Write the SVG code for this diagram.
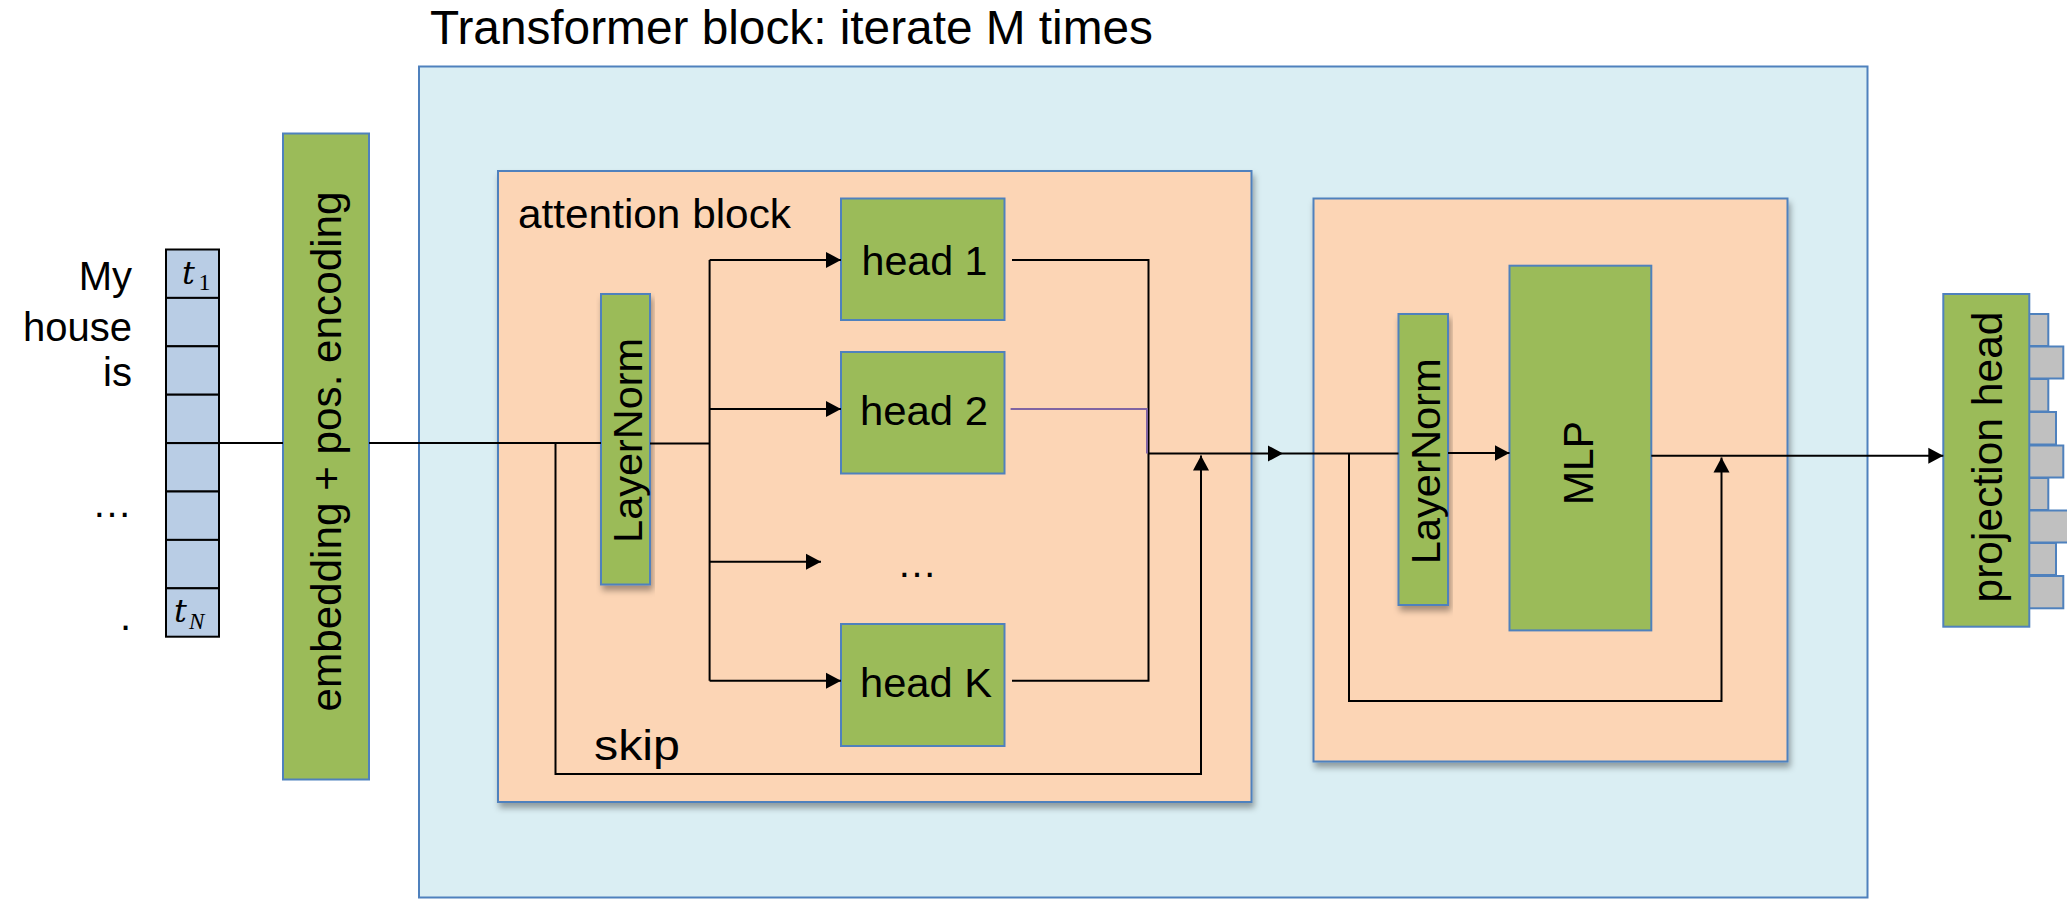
<svg xmlns="http://www.w3.org/2000/svg" width="2067" height="899" viewBox="0 0 2067 899">
  <defs>
    <style>
      .txt { font-family: "Liberation Sans", Arial, sans-serif; fill: #000; }
      .math { font-family: "Liberation Serif", "Times New Roman", serif; fill: #000; }
      .mathvar { font-family: "DejaVu Serif", "Liberation Serif", serif; font-style: italic; fill: #000; }
      .outer { fill: #DAEEF3; stroke: #4F81BD; stroke-width: 2; }
      .block { fill: #FCD5B5; stroke: #4F81BD; stroke-width: 2; }
      .green { fill: #9BBB59; stroke: #4F81BD; stroke-width: 2; }
      .cell { fill: #B9CDE5; stroke: #000; stroke-width: 2; }
      .bar { fill: #C0C0C0; stroke: #4F81BD; stroke-width: 2; }
      .wire { fill: none; stroke: #000; stroke-width: 2; }
      .wire-alt { fill: none; stroke: #8064A2; stroke-width: 2; }
    </style>
    <marker id="arrow" markerWidth="16" markerHeight="18" refX="15" refY="9" orient="auto" markerUnits="userSpaceOnUse">
      <path d="M0,1 L15,9 L0,17 Z" fill="#000"/>
    </marker>
    <filter id="shadow" x="-10%" y="-10%" width="120%" height="130%">
      <feDropShadow dx="2" dy="5" stdDeviation="3" flood-color="#000" flood-opacity="0.35"/>
    </filter>
  </defs>

  <!-- title -->
  <text class="txt" x="430" y="44" font-size="48" textLength="723" lengthAdjust="spacingAndGlyphs">Transformer block: iterate M times</text>

  <!-- input words -->
  <g id="words" class="txt" font-size="40" text-anchor="end">
    <text x="132" y="290">My</text>
    <text x="132" y="341">house</text>
    <text x="132" y="386">is</text>
    <text x="132" y="517">…</text>
    <text x="131" y="630">.</text>
  </g>

  <!-- token column -->
  <g id="tokens">
    <rect class="cell" x="166" y="249.5" width="53" height="48.4"/>
    <rect class="cell" x="166" y="297.9" width="53" height="48.4"/>
    <rect class="cell" x="166" y="346.3" width="53" height="48.4"/>
    <rect class="cell" x="166" y="394.7" width="53" height="48.4"/>
    <rect class="cell" x="166" y="443.1" width="53" height="48.4"/>
    <rect class="cell" x="166" y="491.5" width="53" height="48.4"/>
    <rect class="cell" x="166" y="539.9" width="53" height="48.4"/>
    <rect class="cell" x="166" y="588.3" width="53" height="48.4"/>
    <text class="mathvar" x="182" y="284" font-size="32">t</text>
    <text class="math" x="198.5" y="290" font-size="24">1</text>
    <text class="mathvar" x="174" y="622" font-size="32">t</text>
    <text class="math" x="189" y="629" font-size="23" font-style="italic">N</text>
  </g>

  <!-- embedding -->
  <g id="embedding">
    <rect class="green" x="283" y="133.5" width="86" height="646"/>
    <text class="txt" font-size="42" text-anchor="middle" textLength="520" lengthAdjust="spacingAndGlyphs" transform="translate(341,451.5) rotate(-90)">embedding + pos. encoding</text>
  </g>

  <!-- transformer block container -->
  <g id="transformer">
    <rect class="outer" x="419" y="66.5" width="1448.5" height="831"/>
  </g>

  <!-- attention block -->
  <g id="attention">
    <rect class="block" x="498" y="171" width="753.5" height="631" filter="url(#shadow)"/>
    <text class="txt" x="518" y="227.5" font-size="41" textLength="273" lengthAdjust="spacingAndGlyphs">attention block</text>
    <text class="txt" x="594" y="759.5" font-size="42" textLength="86" lengthAdjust="spacingAndGlyphs">skip</text>
  </g>

  <!-- feed-forward block -->
  <g id="feedforward">
    <rect class="block" x="1313.5" y="198.5" width="474" height="563" filter="url(#shadow)"/>
  </g>

  <g id="layernorm1">
    <rect class="green" x="601" y="294" width="49" height="290.5" filter="url(#shadow)"/>
    <text class="txt" font-size="41.5" text-anchor="middle" textLength="205" lengthAdjust="spacingAndGlyphs" transform="translate(642.2,440.4) rotate(-90)">LayerNorm</text>
  </g>

  <g id="head1">
    <rect class="green" x="841" y="198.5" width="163.5" height="121.5"/>
    <text class="txt" x="861.5" y="275" font-size="41" textLength="126" lengthAdjust="spacingAndGlyphs">head 1</text>
  </g>
  <g id="head2">
    <rect class="green" x="841" y="352" width="163.5" height="121.5"/>
    <text class="txt" x="860" y="424.5" font-size="41" textLength="128" lengthAdjust="spacingAndGlyphs">head 2</text>
  </g>
  <g id="headdots">
    <text class="txt" x="897" y="577" font-size="40">…</text>
  </g>
  <g id="headK">
    <rect class="green" x="841" y="624" width="163.5" height="122"/>
    <text class="txt" x="860" y="697.3" font-size="41" textLength="132" lengthAdjust="spacingAndGlyphs">head K</text>
  </g>

  <g id="layernorm2">
    <rect class="green" x="1398.5" y="314" width="49.5" height="291" filter="url(#shadow)"/>
    <text class="txt" font-size="41.5" text-anchor="middle" textLength="206" lengthAdjust="spacingAndGlyphs" transform="translate(1440.2,461.3) rotate(-90)">LayerNorm</text>
  </g>

  <g id="mlp">
    <rect class="green" x="1509.5" y="265.7" width="141.8" height="364.7"/>
    <text class="txt" font-size="42" text-anchor="middle" textLength="84" lengthAdjust="spacingAndGlyphs" transform="translate(1593,463) rotate(-90)">MLP</text>
  </g>

  <!-- projection head with output bars -->
  <g id="projection">
    <rect class="bar" x="2029" y="314" width="19.3" height="32"/>
    <rect class="bar" x="2029" y="346.5" width="34.3" height="32"/>
    <rect class="bar" x="2029" y="379" width="19.3" height="32.5"/>
    <rect class="bar" x="2029" y="412" width="27" height="32.5"/>
    <rect class="bar" x="2029" y="445.5" width="34.3" height="32"/>
    <rect class="bar" x="2029" y="478" width="19.3" height="32"/>
    <rect class="bar" x="2029" y="510.5" width="40" height="32"/>
    <rect class="bar" x="2029" y="543" width="27" height="32"/>
    <rect class="bar" x="2029" y="576" width="34.3" height="32.3"/>
    <rect class="green" x="1943.3" y="294" width="86" height="332.7"/>
    <text class="txt" font-size="42" text-anchor="middle" textLength="291" lengthAdjust="spacingAndGlyphs" transform="translate(2002,457) rotate(-90)">projection head</text>
  </g>

  <!-- connectors -->
  <g id="connectors">
    <!-- input path -->
    <path class="wire" d="M219,443 H283"/>
    <path class="wire" d="M369,443 H601"/>
    <!-- attention skip -->
    <path class="wire" d="M555.5,443 V774 H1201 V455.5" marker-end="url(#arrow)"/>
    <!-- fan-out to heads -->
    <path class="wire" d="M650,443.5 H709.6" stroke-width="3"/>
    <path class="wire" d="M709.6,259.9 V680.7"/>
    <path class="wire" d="M709.6,259.9 H841" marker-end="url(#arrow)"/>
    <path class="wire" d="M709.6,409.1 H841" marker-end="url(#arrow)"/>
    <path class="wire" d="M709.6,561.7 H821" marker-end="url(#arrow)"/>
    <path class="wire" d="M709.6,680.7 H841" marker-end="url(#arrow)"/>
    <!-- head outputs -->
    <path class="wire" d="M1012,259.9 H1148.5 V680.7 H1012"/>
    <path class="wire-alt" d="M1010.6,409.1 H1147 V453.5"/>
    <!-- into feed-forward block -->
    <path class="wire" d="M1148,453.5 H1283" marker-end="url(#arrow)"/>
    <path class="wire" d="M1283,453.5 H1398.5"/>
    <path class="wire" d="M1448,453 H1509.5" marker-end="url(#arrow)"/>
    <!-- feed-forward skip -->
    <path class="wire" d="M1349,453 V701 H1721.5 V457.5" marker-end="url(#arrow)"/>
    <!-- to projection head -->
    <path class="wire" d="M1651.3,455.7 H1943.3" marker-end="url(#arrow)"/>
  </g>
</svg>
